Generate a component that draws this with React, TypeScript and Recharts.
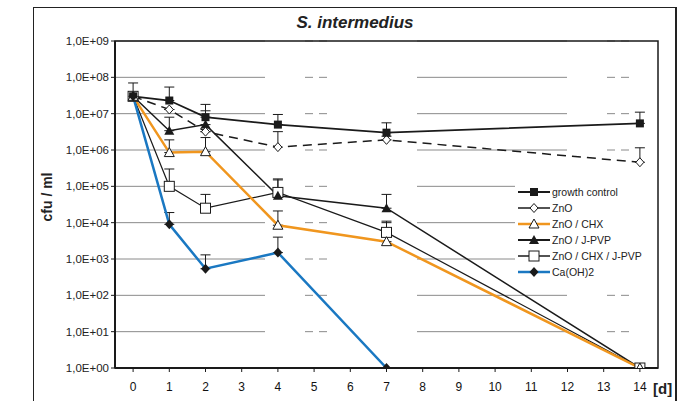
import React from "react";
import {
  LineChart,
  Line,
  XAxis,
  YAxis,
  CartesianGrid,
  ErrorBar,
  Legend,
  ReferenceArea,
} from "recharts";

const days = [0, 1, 2, 4, 7, 14];
const dayTicks = [0, 1, 2, 3, 4, 5, 6, 7, 8, 9, 10, 11, 12, 13, 14];
const decadeTicks = [1, 1e1, 1e2, 1e3, 1e4, 1e5, 1e6, 1e7, 1e8, 1e9];

const seriesNames = [
  "growth control",
  "ZnO",
  "ZnO / CHX",
  "ZnO / J-PVP",
  "ZnO / CHX / J-PVP",
  "Ca(OH)2",
];

// means and upper ends of the error bars (cfu/ml)
const growthControl = [3e7, 2.3e7, 8e6, 5e6, 3e6, 5.4e6];
const growthControlUp = [7e7, 5.4e7, 1.8e7, 9.5e6, 5.6e6, 1.1e7];
const zno = [3e7, 1.3e7, 3.2e6, 1.2e6, 1.9e6, 4.6e5];
const znoUp = [3e7, 1.3e7, 3.2e6, 3.2e6, 2.4e6, 1.15e6];
const znoChx = [3e7, 8.5e5, 9e5, 8.5e3, 3e3, 1];
const znoChxUp = [3e7, 1.9e6, 2.2e6, 2.1e4, 1e4, 1];
const znoJpvp = [3e7, 3.4e6, 5e6, 5.5e4, 2.5e4, 1];
const znoJpvpUp = [3e7, 8e6, 1.2e7, 1.5e5, 6e4, 1];
const znoChxJpvp = [3e7, 1e5, 2.5e4, 6.8e4, 5.4e3, 1];
const znoChxJpvpUp = [3e7, 3e5, 6e4, 1.6e5, 1.1e4, 1];
const caOH2 = [3e7, 9e3, 5.4e2, 1.5e3, 1, null];
const caOH2Up = [3e7, 1.9e4, 1.3e3, 4e3, 1, null];

const err = (v: number | null, up: number | null) =>
  v == null || up == null ? [0, 0] : [0, Math.max(up - v, 0)];

const data = days.map((d, i) => ({
  day: d,
  gc: growthControl[i],
  gcErr: err(growthControl[i], growthControlUp[i]),
  zno: zno[i],
  znoErr: err(zno[i], znoUp[i]),
  chx: znoChx[i],
  chxErr: err(znoChx[i], znoChxUp[i]),
  jpvp: znoJpvp[i],
  jpvpErr: err(znoJpvp[i], znoJpvpUp[i]),
  chxJpvp: znoChxJpvp[i],
  chxJpvpErr: err(znoChxJpvp[i], znoChxJpvpUp[i]),
  ca: caOH2[i],
  caErr: err(caOH2[i], caOH2Up[i]),
}));

const ORANGE = "#f0961e";
const BLUE = "#1a78c2";
const INK = "#1a1a1a";
const FONT = "'Liberation Sans', Arial, sans-serif";

type Shape = "fsq" | "odia" | "otri" | "ftri" | "osq" | "fdia";

function marker(shape: Shape, cx: number, cy: number, key?: any) {
  switch (shape) {
    case "fsq":
      return <rect key={key} x={cx - 4} y={cy - 4} width={8} height={8} fill={INK} />;
    case "osq":
      return (
        <rect key={key} x={cx - 5} y={cy - 5} width={10} height={10} fill="#fff" stroke={INK} strokeWidth={1} />
      );
    case "odia":
      return (
        <polygon
          key={key}
          points={`${cx},${cy - 4.5} ${cx + 4},${cy} ${cx},${cy + 4.5} ${cx - 4},${cy}`}
          fill="#fff"
          stroke={INK}
          strokeWidth={1}
        />
      );
    case "fdia":
      return (
        <polygon
          key={key}
          points={`${cx},${cy - 5} ${cx + 4.5},${cy} ${cx},${cy + 5} ${cx - 4.5},${cy}`}
          fill={INK}
        />
      );
    case "otri":
      return (
        <polygon
          key={key}
          points={`${cx},${cy - 5} ${cx + 5},${cy + 4} ${cx - 5},${cy + 4}`}
          fill="#fff"
          stroke={INK}
          strokeWidth={1}
        />
      );
    case "ftri":
      return (
        <polygon
          key={key}
          points={`${cx},${cy - 5} ${cx + 5},${cy + 4} ${cx - 5},${cy + 4}`}
          fill={INK}
        />
      );
  }
}

const dot = (shape: Shape) => (p: any) => {
  if (p.value == null || p.cy == null || isNaN(p.cy)) return <g key={p.index} />;
  return marker(shape, p.cx, p.cy, p.index);
};

const legendRows: { color: string; width: number; shape: Shape }[] = [
  { color: INK, width: 2, shape: "fsq" },
  { color: INK, width: 1.5, shape: "odia" },
  { color: ORANGE, width: 2.5, shape: "otri" },
  { color: INK, width: 2, shape: "ftri" },
  { color: INK, width: 1.5, shape: "osq" },
  { color: BLUE, width: 2.5, shape: "fdia" },
];

function LegendBox() {
  return (
    <svg width={140} height={100}>
      {legendRows.map((r, i) => {
        const y = 9 + i * 16;
        return (
          <g key={seriesNames[i]}>
            <line x1={3} x2={35} y1={y} y2={y} stroke={r.color} strokeWidth={r.width} />
            {marker(r.shape, 19, y)}
            <text x={37} y={y + 4} fontSize={10.5} fontFamily={FONT} fill="#222">
              {seriesNames[i]}
            </text>
          </g>
        );
      })}
    </svg>
  );
}

const fmtSci = (v: number) => {
  const e = Math.round(Math.log10(v));
  return `1,0E+${String(e).padStart(2, "0")}`;
};

const XTick = (p: any) => (
  <text x={p.x} y={p.y + 17} textAnchor="middle" fontSize={12} fontFamily={FONT} fill="#111">
    {p.payload.value}
  </text>
);

export default function App() {
  return (
    <div
      style={{
        position: "absolute",
        left: 0,
        top: 0,
        width: 688,
        height: 401,
        background: "#fff",
        fontFamily: FONT,
      }}
    >
      <div
        style={{
          position: "absolute",
          left: 33,
          top: 7,
          width: 641,
          height: 400,
          borderLeft: "1.5px solid #222",
          borderTop: "1.5px solid #222",
          borderRight: "2.5px solid #222",
        }}
      />
      <div
        style={{
          position: "absolute",
          left: 0,
          width: 710,
          top: 13,
          textAlign: "center",
          fontSize: 17,
          fontWeight: "bold",
          fontStyle: "italic",
          color: "#222",
        }}
      >
        S. intermedius
      </div>
      <div
        style={{
          position: "absolute",
          left: 47,
          top: 197,
          transform: "translate(-50%, -50%) rotate(-90deg)",
          fontSize: 14,
          fontWeight: "bold",
          whiteSpace: "nowrap",
          color: "#222",
        }}
      >
        cfu / ml
      </div>
      <div
        style={{
          position: "absolute",
          left: 653,
          top: 380,
          fontSize: 15,
          fontWeight: "bold",
          color: "#222",
        }}
      >
        [d]
      </div>
      <div style={{ position: "absolute", left: 0, top: 0 }}>
        <LineChart
          width={688}
          height={401}
          data={data}
          margin={{ top: 41, right: 30, left: 35, bottom: 3 }}
        >
          <CartesianGrid
            horizontal
            vertical={false}
            stroke="#7d7d7d"
            strokeWidth={0.9}
            strokeDasharray="150 40 8 6 8 90"
          />
          <ReferenceArea
            x1={-0.5}
            x2={14.5}
            y1={1}
            y2={1e9}
            fill="none"
            stroke={INK}
            strokeWidth={1.5}
            ifOverflow="visible"
          />
          <XAxis
            dataKey="day"
            type="number"
            domain={[-0.5, 14.5]}
            ticks={dayTicks}
            interval={0}
            allowDataOverflow
            height={30}
            axisLine={{ stroke: INK, strokeWidth: 2 }}
            tickLine={{ stroke: INK }}
            tickSize={4}
            tick={<XTick />}
          />
          <YAxis
            scale="log"
            domain={[1, 1e9]}
            ticks={decadeTicks}
            interval={0}
            allowDataOverflow
            width={80}
            axisLine={{ stroke: INK, strokeWidth: 2 }}
            tickLine={{ stroke: INK }}
            tickSize={4}
            tickFormatter={fmtSci}
            tick={{ fontSize: 11.5, fontFamily: FONT, fill: "#222" }}
          />
          <Legend
            layout="vertical"
            align="center"
            verticalAlign="middle"
            content={() => <LegendBox />}
            wrapperStyle={{ left: 515, top: 183, width: 140, height: 100, background: "#fff" }}
          />
          <Line
            dataKey="chxJpvp"
            name={seriesNames[4]}
            stroke={INK}
            strokeWidth={1.2}
            dot={dot("osq")}
            isAnimationActive={false}
          >
            <ErrorBar dataKey="chxJpvpErr" width={5} stroke={INK} strokeWidth={1} />
          </Line>
          <Line
            dataKey="jpvp"
            name={seriesNames[3]}
            stroke={INK}
            strokeWidth={1.5}
            dot={dot("ftri")}
            isAnimationActive={false}
          >
            <ErrorBar dataKey="jpvpErr" width={5} stroke={INK} strokeWidth={1} />
          </Line>
          <Line
            dataKey="zno"
            name={seriesNames[1]}
            stroke={INK}
            strokeWidth={1.5}
            strokeDasharray="9 6"
            dot={dot("odia")}
            isAnimationActive={false}
          >
            <ErrorBar dataKey="znoErr" width={5} stroke={INK} strokeWidth={1} />
          </Line>
          <Line
            dataKey="gc"
            name={seriesNames[0]}
            stroke={INK}
            strokeWidth={1.8}
            dot={dot("fsq")}
            isAnimationActive={false}
          >
            <ErrorBar dataKey="gcErr" width={5} stroke={INK} strokeWidth={1} />
          </Line>
          <Line
            dataKey="chx"
            name={seriesNames[2]}
            stroke={ORANGE}
            strokeWidth={2.5}
            dot={dot("otri")}
            isAnimationActive={false}
          >
            <ErrorBar dataKey="chxErr" width={5} stroke={INK} strokeWidth={1} />
          </Line>
          <Line
            dataKey="ca"
            name={seriesNames[5]}
            stroke={BLUE}
            strokeWidth={2.5}
            dot={dot("fdia")}
            isAnimationActive={false}
          >
            <ErrorBar dataKey="caErr" width={5} stroke={INK} strokeWidth={1} />
          </Line>
        </LineChart>
      </div>
    </div>
  );
}
